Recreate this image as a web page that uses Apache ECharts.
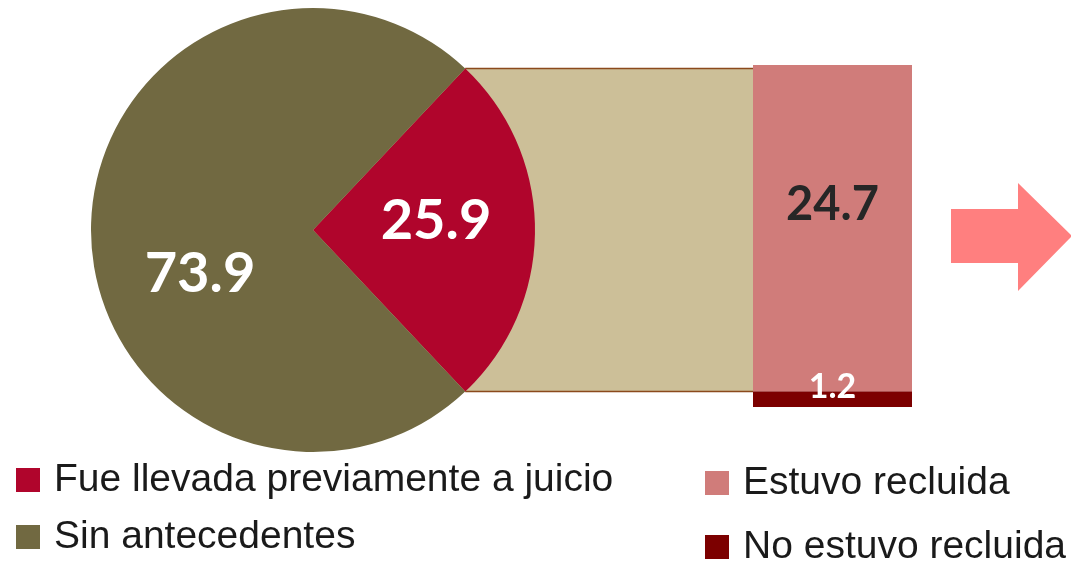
<!DOCTYPE html>
<html>
<head>
<meta charset="utf-8">
<script src="https://cdn.jsdelivr.net/npm/echarts@6/dist/echarts.min.js"></script>
<style>
  html, body { margin: 0; padding: 0; background: #fff; }
  #chart { width: 1071px; height: 564px; }
</style>
</head>
<body>
<div id="chart"></div>
<script>
// datos del grafico
var pieNames = ['Fue llevada previamente a juicio', 'Sin antecedentes'];
var pieValues = [25.9, 73.9];
var barNames = ['Estuvo recluida', 'No estuvo recluida'];
var barValues = [24.7, 1.2];

var chart = echarts.init(document.getElementById('chart'));

// geometria del pastel
var cx = 313, cy = 230, r = 222;
var half = pieValues[0] / (pieValues[0] + pieValues[1]) * 180;
var startAng = half;
var rad = half * Math.PI / 180;
var edgeX = cx + r * Math.cos(rad);
var dy = r * Math.sin(rad);
var barLeft = 753, barTop = 65, barW = 159, barH = 342;

var lbl = function (size, color) {
  return {
    show: true,
    color: color,
    fontFamily: 'Lato',
    fontWeight: 'bold',
    fontSize: size
  };
};

// una leyenda por elemento
var leg = function (name, left, top) {
  return {
    data: [name],
    left: left, top: top,
    itemWidth: 24, itemHeight: 24,
    icon: 'rect',
    selectedMode: false,
    textStyle: { fontFamily: 'Liberation Sans', fontSize: 39, color: '#1a1a1a', lineHeight: 40, padding: [0, 0, 0, 9] }
  };
};

var option = {
  backgroundColor: '#fff',
  animation: false,
  grid: { left: barLeft, top: barTop, width: barW, height: barH },
  xAxis: { type: 'category', data: [''], show: false },
  yAxis: { type: 'value', min: 0, max: barValues[0] + barValues[1], show: false },
  legend: [
    leg(pieNames[0], 11, 455),
    leg(pieNames[1], 11, 512),
    leg(barNames[0], 700, 458),
    leg(barNames[1], 700, 522)
  ],
  graphic: [{
    type: 'polygon',
    z: -10,
    shape: { points: [[cx, cy - dy], [barLeft, cy - dy], [barLeft, cy + dy], [cx, cy + dy]] },
    style: { fill: '#CCBF98' }
  }, {
    type: 'polyline',
    z: -9,
    shape: { points: [[edgeX, cy - dy], [barLeft, cy - dy]] },
    style: { stroke: '#8B4A1C', lineWidth: 1.5 }
  }, {
    type: 'polyline',
    z: -9,
    shape: { points: [[edgeX, cy + dy], [barLeft, cy + dy]] },
    style: { stroke: '#8B4A1C', lineWidth: 1.5 }
  }, {
    type: 'polygon',
    shape: { points: [[951, 209], [1018, 209], [1018, 183], [1072, 236], [1018, 291], [1018, 263], [951, 263]] },
    style: { fill: '#FF7F7F' }
  }],
  series: [{
    type: 'pie',
    center: [cx, cy],
    radius: [0, r],
    startAngle: startAng,
    clockwise: true,
    silent: true,
    label: Object.assign(lbl(56, '#fff'), { position: 'inside', formatter: '{c}' }),
    labelLine: { show: false },
    data: [
      { name: pieNames[0], value: pieValues[0], itemStyle: { color: '#B0052C' },
        label: { offset: [9, -9] } },
      { name: pieNames[1], value: pieValues[1], itemStyle: { color: '#716941' },
        label: { offset: [1, 44] } }
    ]
  }, {
    name: barNames[1],
    type: 'bar',
    stack: 'r',
    barWidth: '100%',
    itemStyle: { color: '#7C0000' },
    label: Object.assign(lbl(34, '#fff'), { position: 'inside', offset: [0, -12] }),
    data: [barValues[1]]
  }, {
    name: barNames[0],
    type: 'bar',
    stack: 'r',
    barWidth: '100%',
    itemStyle: { color: '#D07C7A' },
    label: Object.assign(lbl(47, '#262626'), { position: 'inside', offset: [0, -23] }),
    data: [barValues[0]]
  }]
};

chart.setOption(option);
</script>
</body>
</html>
